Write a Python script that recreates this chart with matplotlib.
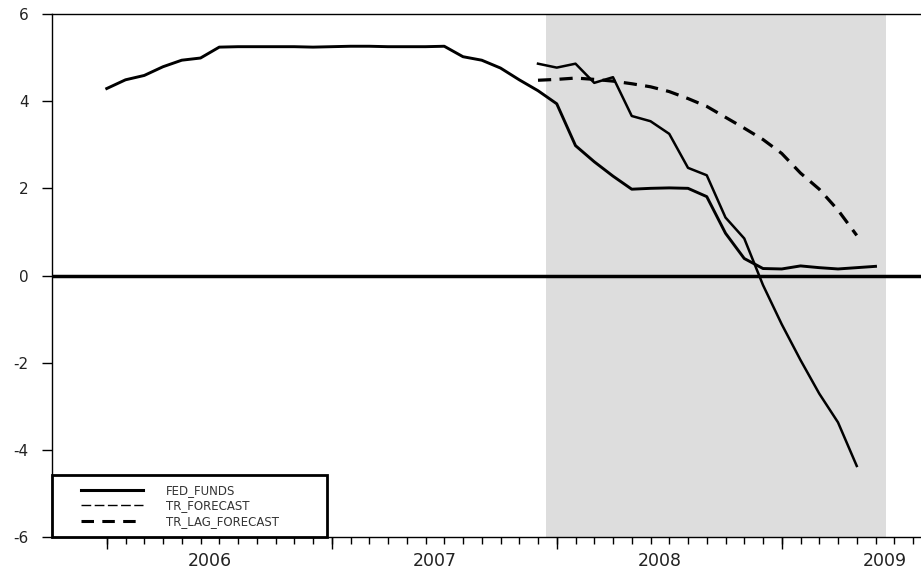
import matplotlib
matplotlib.use('Agg')
import matplotlib.pyplot as plt
from matplotlib.lines import Line2D
from matplotlib.patches import Rectangle
import numpy as np

plt.rcParams['font.family'] = ['DejaVu Sans']
plt.rcParams['lines.scale_dashes'] = False
plt.rcParams['axes.unicode_minus'] = False

# ---- data (monthly, month index 0 = 2006M01) ----
years = ['2006', '2007', '2008', '2009']
fed_funds_start = 0      # 2006M01
fed_funds = [4.29, 4.49, 4.59, 4.79, 4.94, 4.99, 5.24, 5.25, 5.25, 5.25, 5.25, 5.24,
             5.25, 5.26, 5.26, 5.25, 5.25, 5.25, 5.26, 5.02, 4.94, 4.76, 4.49, 4.24,
             3.94, 2.98, 2.61, 2.28, 1.98, 2.00, 2.01, 2.00, 1.81, 0.97, 0.39, 0.16,
             0.15, 0.22, 0.18, 0.15, 0.18, 0.21]
tr_start = 23            # 2007M12
tr_forecast = [4.86, 4.77, 4.86, 4.42, 4.55, 3.66, 3.54, 3.25, 2.47, 2.30, 1.33, 0.85,
               -0.22, -1.12, -1.94, -2.71, -3.37, -4.37]
tr_lag_forecast = [4.48, 4.50, 4.53, 4.50, 4.46, 4.40, 4.33, 4.22, 4.06, 3.88, 3.63, 3.38,
                   3.12, 2.80, 2.35, 1.98, 1.50, 0.92]
recession = (23.42, 41.55)   # 2007M12 - 2009M06 shading
series_names = ['FED_FUNDS', 'TR_FORECAST', 'TR_LAG_FORECAST']

x_fed = np.arange(len(fed_funds)) + fed_funds_start
x_tr = np.arange(len(tr_forecast)) + tr_start
x_lag = np.arange(len(tr_lag_forecast)) + tr_start

fig = plt.figure(figsize=(9.21, 5.69), dpi=100)
ax = fig.add_axes([52/921, 32/569, 870/921, 523/569])
ax.set_xlim(-2.92, -2.92 + 870/18.75)
ax.set_ylim(-6, 6)

ax.axvspan(recession[0], recession[1], color='#dddddd', lw=0, zorder=0)
ax.axhline(0, color='black', lw=2.5, zorder=1.5)

ax.plot(x_fed, fed_funds, color='black', lw=2.1, solid_joinstyle='round', zorder=3)
ax.plot(x_tr, tr_forecast, color='black', lw=1.8, solid_joinstyle='round', zorder=3)
ax.plot(x_lag, tr_lag_forecast, color='black', lw=2.3, dashes=(9.5, 6), zorder=3)

# spines
for s in ['left', 'top', 'bottom']:
    ax.spines[s].set_linewidth(1.0)
    ax.spines[s].set_color('black')
ax.spines['right'].set_visible(False)

# y ticks
ax.set_yticks(range(-6, 7, 2))
ax.tick_params(axis='y', direction='out', length=7.2, width=1, pad=9.5,
               labelsize=11, labelcolor='#222222')

# x ticks: year labels at mid-year, monthly minor ticks, long year ticks
ax.set_xticks([5.5, 17.5, 29.5, 41.5], labels=years)
ax.tick_params(axis='x', which='major', length=0, pad=10.8, labelsize=12.5,
               labelcolor='#222222')
ax.set_xticks(np.arange(0, 44), minor=True)
ax.tick_params(axis='x', which='minor', direction='out', length=5, width=1)
sec = ax.secondary_xaxis('bottom')
sec.set_xticks([0, 12, 24, 36], labels=['', '', '', ''])
sec.tick_params(axis='x', direction='out', length=8.6, width=1)
sec.spines['bottom'].set_visible(False)

# legend box
ax.add_patch(Rectangle((0, 0), 0.3157, 0.1186, transform=ax.transAxes,
                       facecolor='white', edgecolor='black', lw=2.0,
                       zorder=4, clip_on=False))
handles = [Line2D([], [], color='black', lw=2.2),
           Line2D([], [], color='black', lw=1.0, dashes=(7, 2.5)),
           Line2D([], [], color='black', lw=2.2, dashes=(9, 6))]
leg = ax.legend(handles, series_names, loc='center left',
                bbox_to_anchor=(0.0264, 0.0593), frameon=False, borderpad=0,
                handlelength=5.25, handletextpad=1.95, labelspacing=0.2,
                fontsize=8.5, labelcolor='#333333')
leg.set_zorder(5)

fig.savefig('out.png', dpi=100)
